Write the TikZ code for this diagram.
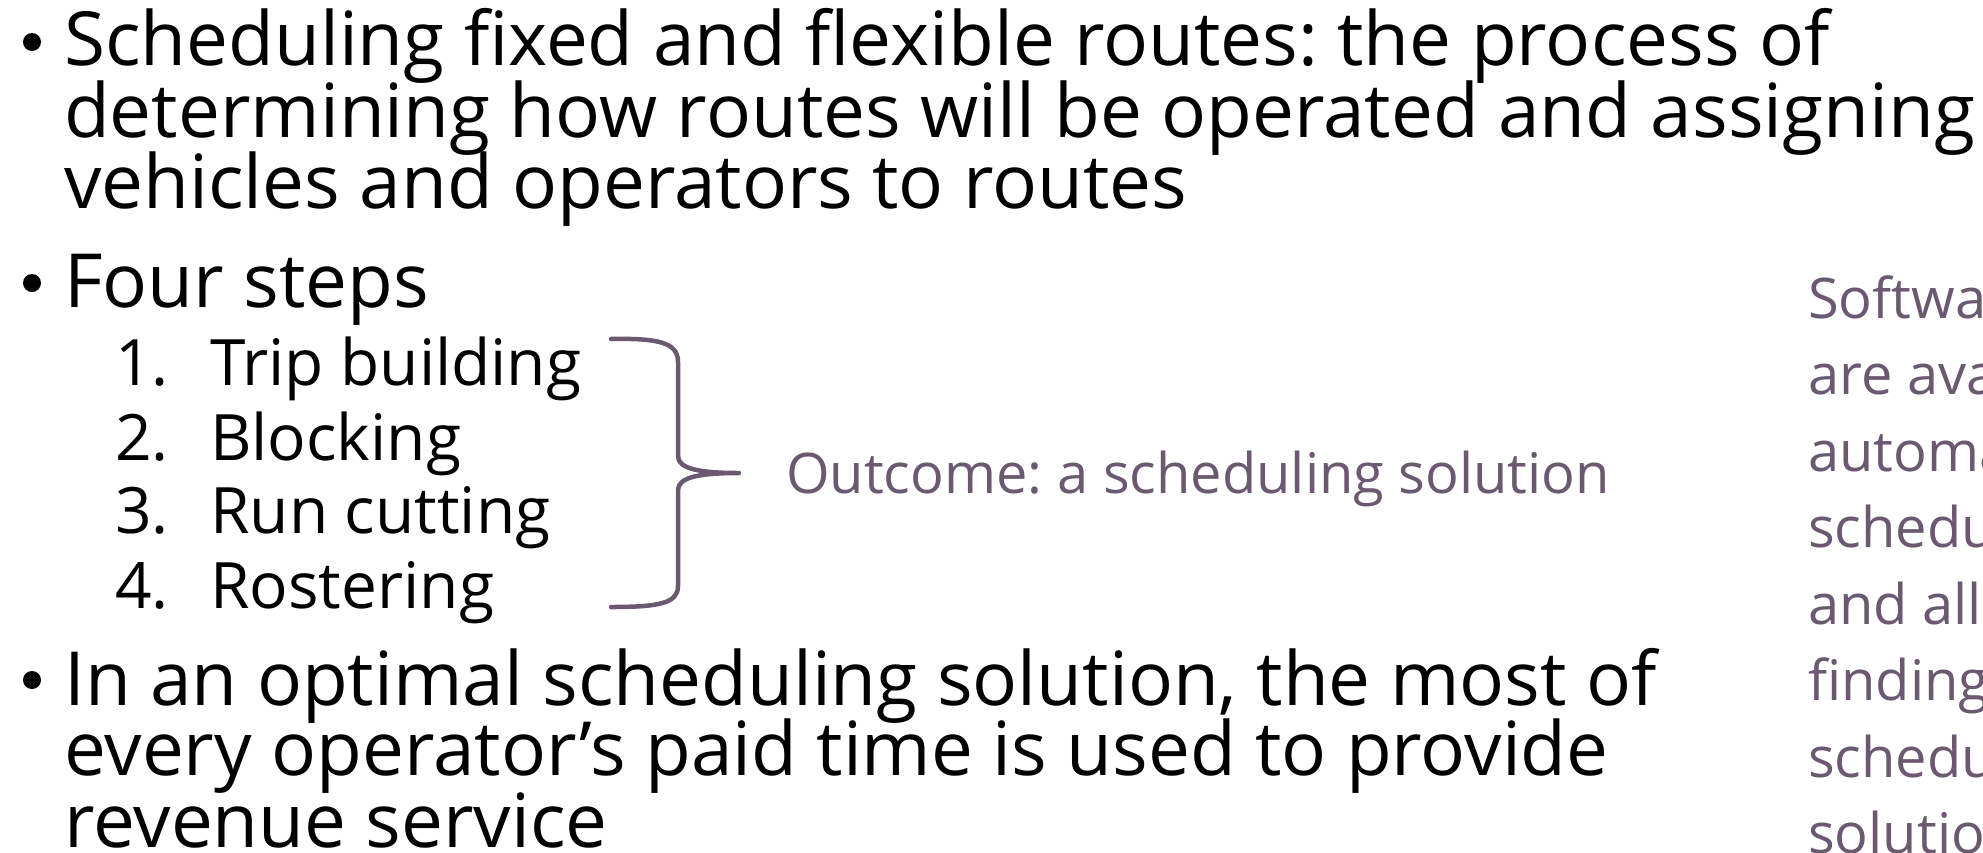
\documentclass[tikz,border=0pt]{standalone}
\usepackage{fontspec}
\setmainfont{Open Sans}
\frenchspacing
\definecolor{accentgray}{RGB}{106,89,112}
\tikzset{
  bodyline/.style={anchor=base west, inner sep=0pt, font=\fontsize{74.7}{80}\selectfont, text=black},
  stepline/.style={anchor=base west, inner sep=0pt, font=\fontsize{64}{70}\selectfont, text=black},
  notetext/.style={anchor=base west, inner sep=0pt, font=\fontsize{56}{60}\selectfont, text=accentgray},
  sideline/.style={anchor=base west, inner sep=0pt, font=\fontsize{56}{60}\selectfont, text=accentgray},
  dot/.style={circle, fill=black, inner sep=0pt, minimum size=18pt},
  bracket/.style={draw=accentgray, line width=4.5pt, line cap=round, line join=round}
}
\begin{document}
\begin{tikzpicture}[x=1pt, y=-1pt]
\useasboundingbox (0,0) rectangle (1983,852);
\clip (0,0) rectangle (1983,852);

% first bullet
\node[dot] (d1) at (32,42) {};
\node[bodyline] (b1a) at (64,65) {Scheduling fixed and flexible routes: the process of};
\node[bodyline] (b1b) at (64,137) {determining how routes will be operated and assigning};
\node[bodyline] (b1c) at (64,208) {vehicles and operators to routes};

% second bullet and its numbered steps
\node[dot] (d2) at (32,283) {};
\node[bodyline] (b2) at (64,307) {Four steps};
\node[stepline] (n1) at (115,385) {1.};
\node[stepline] (s1) at (210,385) {Trip building};
\node[stepline] (n2) at (115,460) {2.};
\node[stepline] (s2) at (210,460) {Blocking};
\node[stepline] (n3) at (115,533) {3.};
\node[stepline] (s3) at (210,533) {Run cutting};
\node[stepline] (n4) at (115,608) {4.};
\node[stepline] (s4) at (210,608) {Rostering};

% brace grouping the steps
\coordinate (bt) at (611,339);
\coordinate (bm) at (739,473);
\coordinate (bb) at (611,607);
\draw[bracket] (bt) .. controls (660,338) and (678,343) .. (678,362)
  -- (678,456) .. controls (678,469) and (700,473) .. (bm)
  .. controls (700,473) and (678,477) .. (678,490)
  -- (678,586) .. controls (678,603) and (660,607) .. (bb);
\node[notetext] (outcome) at (786,493) {Outcome: a scheduling solution};

% third bullet
\node[dot] (d3) at (32,680) {};
\node[bodyline] (b3a) at (64,705) {In an optimal scheduling solution, the most of};
\node[bodyline] (b3b) at (64,775) {every operator’s paid time is used to provide};
\node[bodyline] (b3c) at (64,847) {revenue service};

% side note running off the right edge
\node[sideline] (r1) at (1808,318) {Softwa};
\node[sideline] (r2) at (1808,394.5) {are ava};
\node[sideline] (r3) at (1808,471) {automa};
\node[sideline] (r4) at (1808,547.5) {schedu};
\node[sideline] (r5) at (1808,624) {and all};
\node[sideline] (r6) at (1808,700) {finding};
\node[sideline] (r7) at (1808,777) {schedu};
\node[sideline] (r8) at (1808,853) {solutio};
\end{tikzpicture}
\end{document}
